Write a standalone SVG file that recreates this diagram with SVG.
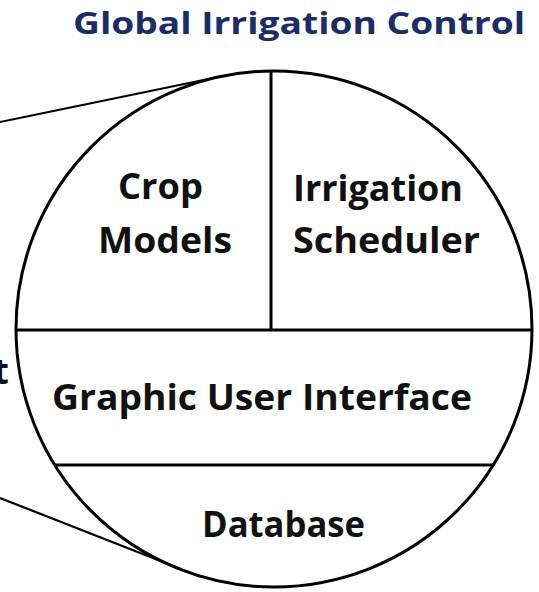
<svg xmlns="http://www.w3.org/2000/svg" width="539" height="592" viewBox="0 0 539 592">
<defs>
<style>
.lbl{font-family:"Open Sans","Noto Sans","DejaVu Sans",sans-serif;font-weight:bold;font-size:36px;fill:#111;}
.title{font-family:"Open Sans","Noto Sans","DejaVu Sans",sans-serif;font-weight:bold;font-size:30px;fill:#1c2d66;}
.edge{stroke:#000;stroke-width:3;fill:none;}
.conn{stroke:#000;stroke-width:2.2;fill:none;}
</style>
</defs>
<rect width="539" height="592" fill="#fff"/>
<g id="title"><text class="title" x="73" y="34" textLength="452" lengthAdjust="spacingAndGlyphs">Global Irrigation Control</text></g>
<g id="connectors">
<line class="conn" x1="0" y1="122" x2="223" y2="76"/>
<line class="conn" x1="0" y1="498" x2="181" y2="569"/>
</g>
<g id="outer-circle"><circle class="edge" cx="274" cy="329" r="258"/></g>
<g id="dividers">
<line class="edge" x1="271" y1="71" x2="271" y2="330"/>
<line class="edge" x1="16" y1="330" x2="532" y2="330"/>
<line class="edge" x1="55" y1="465" x2="493" y2="465"/>
</g>
<g id="crop-models">
<text class="lbl" x="118" y="199" textLength="85" lengthAdjust="spacingAndGlyphs">Crop</text>
<text class="lbl" x="98" y="253" textLength="134" lengthAdjust="spacingAndGlyphs">Models</text>
</g>
<g id="irrigation-scheduler">
<text class="lbl" x="293" y="201" textLength="170" lengthAdjust="spacingAndGlyphs">Irrigation</text>
<text class="lbl" x="293" y="253" textLength="187" lengthAdjust="spacingAndGlyphs">Scheduler</text>
</g>
<g id="gui"><text class="lbl" x="52" y="410" textLength="420" lengthAdjust="spacingAndGlyphs">Graphic User Interface</text></g>
<g id="database"><text class="lbl" x="202" y="537" textLength="163" lengthAdjust="spacingAndGlyphs">Database</text></g>
<g id="cut-label"><text class="lbl" x="9" y="384" text-anchor="end">t</text></g>
</svg>
